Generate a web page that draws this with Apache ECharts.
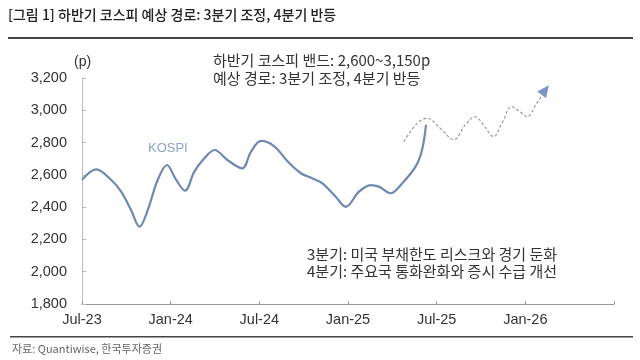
<!DOCTYPE html>
<html><head><meta charset="utf-8">
<script src="https://cdn.jsdelivr.net/npm/echarts@6/dist/echarts.min.js"></script>
<style>html,body{margin:0;padding:0;background:#fff}#c{width:640px;height:360px}</style>
</head><body><div id="c"></div>
<script>
// x values: months elapsed since Jul-2023
const xTickLabels = ['Jul-23','Jan-24','Jul-24','Jan-25','Jul-25','Jan-26',''];
const kospiMonths = [0,0.96,1.98,2.65,3.32,3.89,4.45,5.12,5.75,6.36,6.97,7.6,8.29,8.97,9.84,10.84,11.44,12.12,13.01,13.91,14.81,15.6,16.27,17.17,17.85,18.74,19.53,20.09,20.88,21.66,22.57,23.01,23.28];
const kospiValues = [2570,2634,2568,2496,2382,2279,2382,2568,2661,2570,2502,2620,2704,2754,2692,2640,2744,2810,2777,2684,2610,2578,2547,2464,2402,2496,2537,2527,2486,2547,2651,2754,2909];
const pathMonths = [21.78,22.68,23.35,24.25,25.15,25.94,26.61,27.17,27.85,28.41,29.08,29.64,30.09,30.77,31.35];
const pathValues = [2806,2919,2950,2888,2819,2909,2960,2909,2837,2919,3022,2991,2960,3043,3125];

const zip = (a,b) => a.map((v,i)=>[v,b[i]]);
const kospiData = zip(kospiMonths, kospiValues);
const pathData = zip(pathMonths, pathValues);
const arrowData = [pathData[pathData.length-1]];

const CJK = '"Noto Sans CJK KR", "Liberation Sans", sans-serif';
const LAT = '"Liberation Sans", Arial, sans-serif';

const chart = echarts.init(document.getElementById('c'), null, {renderer:'canvas'});
chart.setOption({
  animation:false,
  backgroundColor:'#fff',
  grid:{left:82,right:26,top:78,bottom:56,containLabel:false},
  xAxis:{
    type:'value',min:0,max:36,interval:6,
    axisLine:{lineStyle:{color:'#999',width:1}},
    axisTick:{inside:true,length:3,lineStyle:{color:'#999'}},
    splitLine:{show:false},
    axisLabel:{color:'#333',fontFamily:LAT,fontSize:14.5,margin:8,
      formatter:(v)=>xTickLabels[Math.round(v/6)]||''}
  },
  yAxis:{
    type:'value',min:1800,max:3200,interval:200,
    axisLine:{show:true,lineStyle:{color:'#bbb',width:1}},
    axisTick:{show:true,inside:true,length:4,lineStyle:{color:'#bbb'}},
    splitLine:{show:false},
    axisLabel:{color:'#333',fontFamily:LAT,fontSize:14.5,margin:15,
      formatter:(v)=>v.toLocaleString('en-US')}
  },
  series:[
    {type:'line',name:'KOSPI',data:kospiData,smooth:0.35,symbol:'none',
     lineStyle:{color:'#6f88b0',width:2.2}},
    {type:'line',name:'path',data:pathData,smooth:0.4,symbol:'none',
     lineStyle:{color:'#949494',width:1.1,type:[3,2]}},
    {type:'scatter',data:arrowData,symbol:'triangle',symbolSize:[11,12],symbolRotate:-37,
     itemStyle:{color:'#5a7db6'}}
  ],
  graphic:[
    {type:'text',left:8,top:8,style:{text:'[그림 1] 하반기 코스피 예상 경로: 3분기 조정, 4분기 반등',font:'500 14px '+CJK,fill:'#222'}},
    {type:'rect',shape:{x:8,y:37,width:625,height:2},style:{fill:'#444'}},
    {type:'text',left:74,top:55,style:{text:'(p)',font:'14px '+LAT,fill:'#333'}},
    {type:'text',left:213,top:53,style:{text:'하반기 코스피 밴드: 2,600~3,150p',font:'15px '+CJK,fill:'#333'}},
    {type:'text',left:213,top:71,style:{text:'예상 경로: 3분기 조정, 4분기 반등',font:'15px '+CJK,fill:'#333'}},
    {type:'text',left:148,top:142,style:{text:'KOSPI',font:'13px '+LAT,fill:'#8ea4c8'}},
    {type:'text',left:307,top:247,style:{text:'3분기: 미국 부채한도 리스크와 경기 둔화',font:'15px '+CJK,fill:'#333'}},
    {type:'text',left:307,top:264,style:{text:'4분기: 주요국 통화완화와 증시 수급 개선',font:'15px '+CJK,fill:'#333'}},
    {type:'rect',shape:{x:10,y:336,width:623,height:1.5},style:{fill:'#444'}},
    {type:'text',left:12,top:343,style:{text:'자료: Quantiwise, 한국투자증권',font:'11px '+CJK,fill:'#666'}}
  ]
});
</script></body></html>
